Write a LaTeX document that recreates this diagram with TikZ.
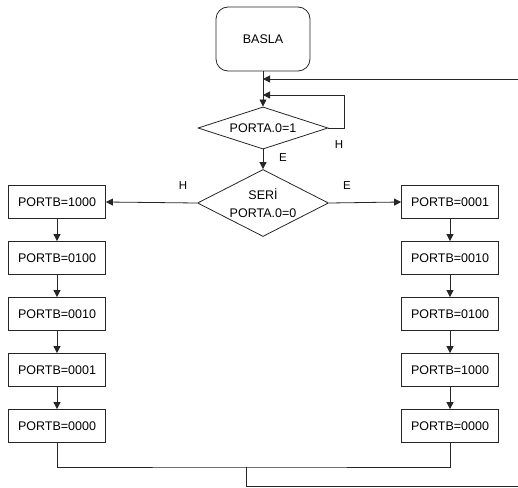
\documentclass[tikz,border=0pt]{standalone}
\usepackage{fontspec}
\setmainfont{Liberation Sans}
\usetikzlibrary{shapes.geometric,arrows.meta}
\begin{document}
\begin{tikzpicture}[x=1pt,y=-1pt,
  font=\fontsize{12.5}{18}\selectfont,
  line width=0.8pt,
  ln/.style={draw=black!85},
  arr/.style={ln,-{Triangle[length=7pt,width=7pt]}},
  box/.style={draw=black!85,rectangle,minimum width=97pt,minimum height=33pt,inner sep=0pt},
  startbox/.style={draw=black!85,rectangle,rounded corners=12pt,minimum width=94pt,minimum height=64pt},
  dia/.style={draw=black!85,diamond,inner sep=0pt,aspect=2},
  lbl/.style={font=\fontsize{11.5}{13}\selectfont}]
\useasboundingbox (0,0) rectangle (518,487);
\node[startbox] (start) at (263,39) {BASLA};
\node[dia,minimum width=130pt,minimum height=38pt] (d1) at (263,128) {PORTA.0=1};
\node[dia,minimum width=131pt,minimum height=67pt,align=center] (d2) at (263,203) {SERİ\\PORTA.0=0};
\foreach \i/\t in {1/1000,2/0100,3/0010,4/0001,5/0000}{
  \node[box] (l\i) at (57,{202+56*(\i-1)}) {PORTB=\t};
}
\foreach \i/\t in {1/0001,2/0010,3/0100,4/1000,5/0000}{
  \node[box] (r\i) at (450,{202+56*(\i-1)}) {PORTB=\t};
}
% top connectors
\coordinate (j1) at (263,79);
\coordinate (j2) at (263,95);
\coordinate (rin) at (518,79);
\coordinate (lp) at (344,95);
\draw[arr] (start.south) -- (d1.north);
\draw[arr] (rin) -- (j1);
\draw[arr] (d1.east) -| (lp) -- (j2);
\node[lbl] (hlab1) at (339,145) {H};
\node[lbl] (elab1) at (283,158) {E};
\draw[arr] (d1.south) -- (d2.north);
\draw[arr] (d2.west) -- (l1.east);
\draw[arr] (d2.east) -- (r1.west);
\node[lbl] (hlab2) at (183,186) {H};
\node[lbl] (elab2) at (347,186) {E};
\foreach \i [count=\j from 2] in {1,2,3,4}{
  \draw[arr] (l\i.south) -- (l\j.north);
  \draw[arr] (r\i.south) -- (r\j.north);
}
% bottom merge
\coordinate (m) at (246,467);
\coordinate (mb) at (246,486);
\coordinate (out) at (518,486);
\draw[ln] (l5.south) |- (m) -| (r5.south);
\draw[ln] (m) -- (mb) -- (out);
\end{tikzpicture}
\end{document}
